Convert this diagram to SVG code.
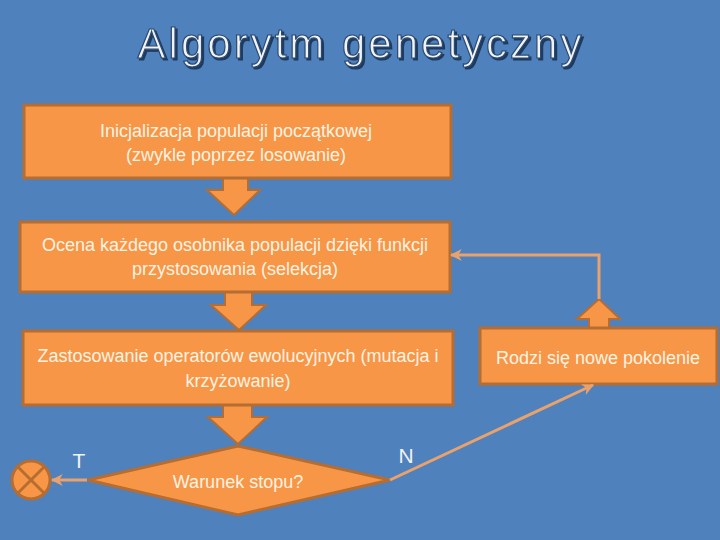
<svg xmlns="http://www.w3.org/2000/svg" width="720" height="540" viewBox="0 0 720 540">
<defs>
<style>
.box{fill:#f79646;stroke:#b66d31;stroke-width:3}
.blk{fill:#f79646;stroke:#b66d31;stroke-width:2;stroke-linejoin:miter}
.t{font-family:"Liberation Sans",Arial,sans-serif;font-size:18px;fill:#fdf3e3;text-anchor:middle}
.lbl{font-family:"Liberation Sans",Arial,sans-serif;font-size:21px;fill:#f2f2f2;text-anchor:middle}
.con{fill:none;stroke:#e9a26c;stroke-width:3}
.title{font-family:"Liberation Sans",Arial,sans-serif;font-size:42px;letter-spacing:3px;text-anchor:middle}
</style>
<filter id="sh" x="-10%" y="-30%" width="120%" height="160%">
<feDropShadow dx="2" dy="2" stdDeviation="0.5" flood-color="#1f3a5f" flood-opacity="1"/>
</filter>
<marker id="ah" viewBox="0 0 10 10" refX="9" refY="5" markerWidth="4" markerHeight="4" orient="auto" markerUnits="strokeWidth">
<path d="M0,0 L10,5 L0,10 L3,5 Z" fill="#e9a26c"/>
</marker>
</defs>
<rect width="720" height="540" fill="#4f81bd"/>
<g id="title">
<text class="title" x="361" y="58" fill="#f2f2f2" stroke="#2a4a73" stroke-width="1.2" filter="url(#sh)">Algorytm genetyczny</text>
</g>
<g id="arrows-block">
<path class="blk" d="M223,178 L248,178 L248,190 L260,190 L234,215 L207,190 L223,190 Z"/>
<path class="blk" d="M225,292 L252,292 L252,305 L266,305 L239,330 L211,305 L225,305 Z"/>
<path class="blk" d="M223,405 L252,405 L252,417 L267,417 L238,444 L208,417 L223,417 Z"/>
<path class="blk" d="M589,328 L609,328 L609,319 L620,319 L599,299 L577,319 L589,319 Z"/>
</g>
<g id="n1">
<rect class="box" x="24" y="105" width="427" height="73"/>
<text class="t" x="236" y="137">Inicjalizacja populacji początkowej</text>
<text class="t" x="236" y="161">(zwykle poprzez losowanie)</text>
</g>
<g id="n2">
<rect class="box" x="20" y="222" width="430" height="70"/>
<text class="t" x="235" y="251">Ocena każdego osobnika populacji dzięki funkcji</text>
<text class="t" x="235" y="275">przystosowania (selekcja)</text>
</g>
<g id="n3">
<rect class="box" x="23" y="331" width="430" height="74"/>
<text class="t" x="238" y="362">Zastosowanie operatorów ewolucyjnych (mutacja i</text>
<text class="t" x="238" y="387">krzyżowanie)</text>
</g>
<g id="n4">
<path class="box" d="M238,446 L390,480 L238,515 L88,480 Z"/>
<text class="t" x="238" y="488">Warunek stopu?</text>
</g>
<g id="n5">
<rect class="box" x="480" y="328" width="237" height="56"/>
<text class="t" x="598" y="364">Rodzi się nowe pokolenie</text>
</g>
<g id="end">
<circle cx="31" cy="480" r="19" fill="#f79646" stroke="#b66d31" stroke-width="3"/>
<path d="M18,467 L44,493 M44,467 L18,493" stroke="#b66d31" stroke-width="3"/>
</g>
<g id="connectors">
<path class="con" d="M87,480 L52,480" marker-end="url(#ah)"/>
<path class="con" d="M390,480 L593,385" marker-end="url(#ah)"/>
<path class="con" d="M599,299 L599,255 L451,255" marker-end="url(#ah)"/>
</g>
<g id="labels">
<text class="lbl" x="79" y="468">T</text>
<text class="lbl" x="406" y="463">N</text>
</g>
</svg>
